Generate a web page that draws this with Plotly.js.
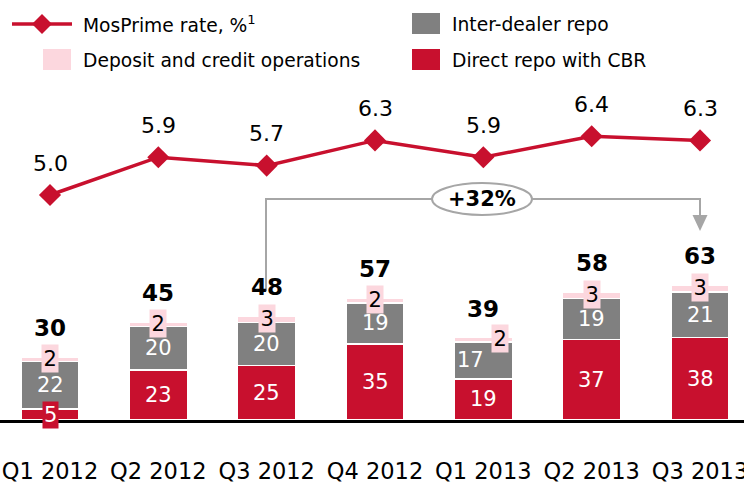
<!DOCTYPE html>
<html><head><meta charset="utf-8">
<script src="https://cdn.plot.ly/plotly-3.0.1.min.js"></script>
<style>html,body{margin:0;padding:0;background:#fff}#chart{width:744px;height:485px}</style>
</head><body><div id="chart"></div>
<script>
const categories = ['Q1 2012','Q2 2012','Q3 2012','Q4 2012','Q1 2013','Q2 2013','Q3 2013'];
const directRepo = [5,23,25,35,19,37,38];
const interDealer = [22,20,20,19,17,19,21];
const deposit = [2,2,3,2,2,3,3];
const totals = [30,45,48,57,39,58,63];
const mosprime = [5.0,5.9,5.7,6.3,5.9,6.4,6.3];
const growthLabel = '+32%';
const seriesNames = ['MosPrime rate, %<sup>1</sup>','Deposit and credit operations','Inter-dealer repo','Direct repo with CBR'];

const RED='#C8102E', GREY='#808080', PINK='#FCD7DE', BR='#A6A6A6';
const FONT='DejaVu Sans, sans-serif';
const W=744, PH=420;
const px = x=>x/W, py = y=>(PH-y)/PH;

const barW = 0.535;
const traces = [
  {type:'bar', x:categories, y:directRepo, name:seriesNames[3], width:barW, marker:{color:RED, line:{color:'#fff', width:1.5}}, hoverinfo:'skip'},
  {type:'bar', x:categories, y:interDealer, name:seriesNames[2], width:barW, marker:{color:GREY, line:{color:'#fff', width:1.5}}, hoverinfo:'skip'},
  {type:'bar', x:categories, y:deposit, name:seriesNames[1], width:barW, marker:{color:PINK, line:{color:'#fff', width:1.5}}, hoverinfo:'skip'},
  {type:'scatter', mode:'lines+markers', x:categories, y:mosprime, yaxis:'y2', name:seriesNames[0],
   line:{color:RED, width:3.5}, marker:{symbol:'diamond', size:17, color:RED}, hoverinfo:'skip', cliponaxis:false}
];

const ann = [];
const shapes = [];
categories.forEach((c,i)=>{
  const d=directRepo[i], g=interDealer[i], p=deposit[i];
  ann.push({x:c, y:d/2, xref:'x', yref:'y', text:String(d), showarrow:false,
    font:{family:FONT, size:21, color:'#fff'}, bgcolor:RED, borderpad:1});
  ann.push({x:c, y:d+g/2, xref:'x', yref:'y', text:String(g), showarrow:false,
    xshift: i===4?-13:0,
    font:{family:FONT, size:21, color:'#fff'}});
  ann.push({x:c, y:d+g+p/2, xref:'x', yref:'y', text:String(p), showarrow:false,
    xshift: i===4?17:0, yshift:1,
    font:{family:FONT, size:21, color:'#000'}, bgcolor:PINK, borderpad:1.5});
  ann.push({x:c, y:d+g+p, xref:'x', yref:'y', text:'<b>'+totals[i]+'</b>', showarrow:false,
    yshift:29, font:{family:FONT, size:23, color:'#000'}});
  ann.push({x:c, y:mosprime[i], xref:'x', yref:'y2', text:mosprime[i].toFixed(1), showarrow:false,
    yshift:32, font:{family:FONT, size:22, color:'#000'}});
});

// growth bracket
shapes.push({type:'path', xref:'paper', yref:'paper',
  path:`M ${px(266)} ${py(291)} L ${px(266)} ${py(199)} L ${px(700)} ${py(199)} L ${px(700)} ${py(216)}`,
  line:{color:BR, width:2}});
shapes.push({type:'path', xref:'paper', yref:'paper',
  path:`M ${px(692.5)} ${py(215)} L ${px(707.5)} ${py(215)} L ${px(700)} ${py(231)} Z`,
  fillcolor:BR, line:{color:BR, width:0}});
shapes.push({type:'circle', xref:'paper', yref:'paper',
  x0:px(432), x1:px(532), y0:py(183), y1:py(215), fillcolor:'#fff', line:{color:BR, width:2}});
ann.push({x:px(482), y:py(199), xref:'paper', yref:'paper', text:'<b>'+growthLabel+'</b>', showarrow:false,
  font:{family:FONT, size:21, color:'#000'}});

// legend
shapes.push({type:'line', xref:'paper', yref:'paper', x0:px(12), x1:px(72), y0:py(24), y1:py(24), line:{color:RED, width:3.5}});
shapes.push({type:'path', xref:'paper', yref:'paper',
  path:`M ${px(32)} ${py(24)} L ${px(42)} ${py(14)} L ${px(52)} ${py(24)} L ${px(42)} ${py(34)} Z`,
  fillcolor:RED, line:{width:0}});
shapes.push({type:'rect', xref:'paper', yref:'paper', x0:px(43), x1:px(71), y0:py(49), y1:py(70), fillcolor:PINK, line:{width:0}});
shapes.push({type:'rect', xref:'paper', yref:'paper', x0:px(412), x1:px(440), y0:py(13), y1:py(34), fillcolor:GREY, line:{width:0}});
shapes.push({type:'rect', xref:'paper', yref:'paper', x0:px(412), x1:px(440), y0:py(49), y1:py(70), fillcolor:RED, line:{width:0}});
const legPos = [[81,24],[81,60],[450,24],[450,60]];
seriesNames.forEach((n,k)=>{
  ann.push({x:px(legPos[k][0]), y:py(legPos[k][1]), xref:'paper', yref:'paper', xanchor:'left', yanchor:'middle',
    text:n, showarrow:false, font:{family:FONT, size:18.7, color:'#000'}});
});

const layout = {
  width:744, height:485,
  margin:{l:0, r:0, t:0, b:65, pad:0},
  paper_bgcolor:'#fff', plot_bgcolor:'#fff',
  barmode:'stack', showlegend:false,
  font:{family:FONT, color:'#000'},
  xaxis:{type:'category', range:[-0.4615, 6.406], showline:true, linecolor:'#000', linewidth:2.5,
    ticks:'', showgrid:false, zeroline:false, tickfont:{family:FONT, size:22.5, color:'#000'}, ticklabelstandoff:29, fixedrange:true},
  yaxis:{range:[0,193.5], visible:false, fixedrange:true},
  yaxis2:{range:[-0.357, 9.643], overlaying:'y', visible:false, fixedrange:true},
  annotations:ann, shapes:shapes
};
Plotly.newPlot('chart', traces, layout, {staticPlot:true, displayModeBar:false});
</script></body></html>
